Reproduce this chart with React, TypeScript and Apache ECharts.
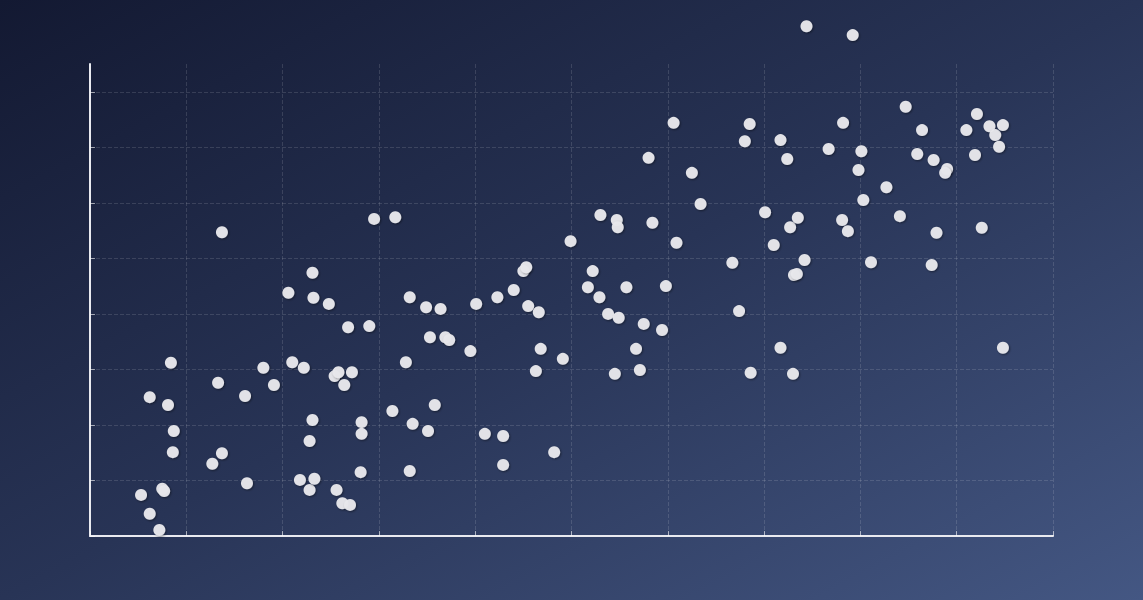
import React, { useEffect, useRef } from "react";
import * as echarts from "echarts";

// x values (0–100) and y values (0–85 axis)
const xValues: number[] = [
  5.3, 6.2, 7.2, 7.5, 7.7, 6.2, 8.1, 8.4, 8.7, 8.6, 12.7, 13.7, 13.3, 13.7, 16.3, 16.1, 18.0, 19.1,
  20.6, 21.0, 22.2, 23.1, 23.2, 24.8, 23.1, 22.8, 21.8, 22.8, 23.3, 25.6, 26.2, 27.0, 25.4, 25.8,
  26.4, 27.2, 26.8, 29.0, 28.2, 28.2, 28.1, 29.5, 31.7,
  33.2, 34.9, 36.4, 35.3, 36.9, 37.3, 39.5, 32.8, 31.4, 35.8, 33.5, 35.1, 41.0, 42.9, 48.2, 42.9,
  33.2, 40.1, 42.3, 44.0, 45.0, 45.3, 45.5, 46.6, 46.8, 49.1, 46.3, 49.9, 53.0, 54.7, 54.8, 58.4,
  60.9, 52.2, 51.7, 52.9, 55.7, 59.8, 53.8, 54.9, 57.5, 59.4, 56.7, 57.1, 54.5, 60.6, 58.0, 62.5,
  63.4,
  66.7, 67.4, 68.6, 71.7, 73.0, 68.0, 68.5, 71.7, 72.4, 70.1, 71.0, 72.7, 73.5, 74.2, 73.1, 73.4,
  74.4, 79.2, 76.7, 78.2, 80.1, 79.8, 80.3, 78.1, 78.7, 81.1, 82.7, 84.1, 84.7, 86.4, 85.9, 87.6,
  89.0, 88.8, 87.9, 87.4, 91.0, 92.1, 91.9, 92.6, 93.4, 94.0, 94.8, 94.4, 94.8,
];

const yValues: number[] = [
  7.4, 4.0, 1.1, 8.5, 8.1, 25.0, 23.6, 31.2, 18.9, 15.1, 13.0, 14.9, 27.6, 54.7, 9.5, 25.2, 30.3, 27.2,
  43.8, 31.3, 30.3, 47.4, 42.9, 41.8, 20.9, 17.1, 10.1, 8.3, 10.3, 8.3, 5.9, 5.6, 28.8, 29.5,
  27.2, 29.5, 37.6, 37.8, 20.5, 18.4, 11.5, 57.1, 57.4,
  43.0, 41.2, 40.9, 35.8, 35.8, 35.3, 33.3, 31.3, 22.5, 23.6, 20.2, 18.9, 18.4, 18.0, 15.1, 12.8,
  11.7, 41.8, 43.0, 44.3, 47.7, 48.4, 41.4, 40.3, 33.7, 31.9, 29.7, 53.1, 57.8, 56.9, 55.6, 56.4,
  52.8, 47.7, 44.8, 43.0, 44.8, 45.0, 40.0, 39.3, 38.2, 37.1, 33.7, 29.9, 29.2, 74.4, 68.1, 65.4,
  59.8,
  49.2, 40.5, 29.4, 33.9, 29.2, 71.1, 74.2, 71.3, 67.9, 58.3, 52.4, 55.6, 57.3, 49.7, 47.0, 47.2,
  91.8, 90.2, 69.7, 74.4, 69.3, 65.9, 60.5, 56.9, 54.9, 49.3, 62.8, 57.6, 77.3, 73.1, 68.8, 67.7,
  66.1, 65.4, 54.6, 48.8, 73.1, 76.0, 68.6, 55.5, 73.8, 72.2, 74.0, 70.1, 33.9,
];

const X_MIN = 0;
const X_MAX = 100;
const X_STEP = 10;
const Y_MIN = 0;
const Y_MAX = 85;
const Y_STEP = 10;
const yTickValues: number[] = [0, 10, 20, 30, 40, 50, 60, 70, 80];

export default function App() {
  const ref = useRef<HTMLDivElement>(null);

  useEffect(() => {
    if (!ref.current) return;
    const chart = echarts.init(ref.current, undefined, { renderer: "svg" });
    const points = xValues.map((x, i) => [x, yValues[i]]);
    const axisColor = "#e9eaf0";
    const gridColor = "rgba(255,255,255,0.13)";
    chart.setOption({
      animation: false,
      backgroundColor: new echarts.graphic.LinearGradient(0, 0, 1, 1, [
        { offset: 0, color: "#131932" },
        { offset: 0.5, color: "#283456" },
        { offset: 1, color: "#445783" },
      ]),
      grid: { left: 90, right: 90, top: 64, bottom: 64, containLabel: false },
      xAxis: {
        type: "value",
        min: X_MIN,
        max: X_MAX,
        interval: X_STEP,
        axisLine: { show: true, onZero: false, lineStyle: { color: axisColor, width: 2 } },
        axisTick: { show: true, inside: true, length: 5, lineStyle: { color: "rgba(255,255,255,0.55)" } },
        axisLabel: { show: false },
        splitLine: { show: true, lineStyle: { color: gridColor, type: "dashed" } },
      },
      yAxis: {
        type: "value",
        min: Y_MIN,
        max: Y_MAX,
        interval: Y_STEP,
        axisLine: { show: true, onZero: false, lineStyle: { color: axisColor, width: 2 } },
        axisTick: {
          show: true,
          inside: true,
          length: 5,
          customValues: yTickValues,
          lineStyle: { color: "rgba(255,255,255,0.55)" },
        },
        axisLabel: { show: false },
        splitLine: { show: true, lineStyle: { color: gridColor, type: "dashed" } },
      },
      series: [
        {
          type: "scatter",
          data: points,
          clip: false,
          symbolSize: 12,
          itemStyle: {
            color: "#e8e8ec",
            opacity: 0.96,
            shadowBlur: 2,
            shadowColor: "rgba(0,0,0,0.45)",
            shadowOffsetX: 1,
            shadowOffsetY: 1,
          },
        },
      ],
    });
    return () => chart.dispose();
  }, []);

  return <div ref={ref} style={{ position: "fixed", left: 0, top: 0, width: 1143, height: 600 }} />;
}
